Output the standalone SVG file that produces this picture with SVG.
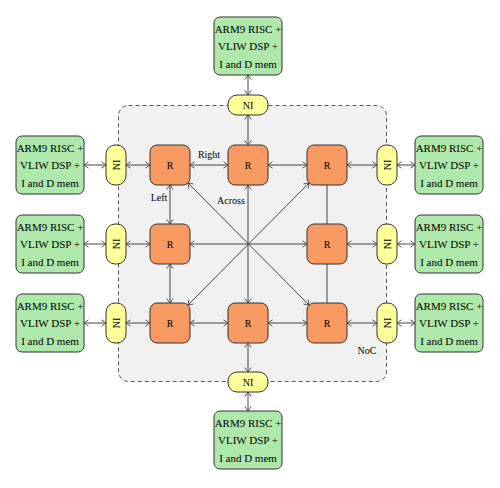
<svg xmlns="http://www.w3.org/2000/svg" width="500" height="488" viewBox="0 0 500 488">
<defs>
<style>
.pe{fill:#aee9ab;stroke:#333;stroke-width:1}
.r{fill:#f99a62;stroke:#333;stroke-width:1}
.ni{fill:#ffff99;stroke:#333;stroke-width:1}
.t{font-family:"Liberation Serif",serif;font-size:11px;fill:#000;text-anchor:middle;dominant-baseline:central}
.s{font-family:"Liberation Serif",serif;font-size:10px;fill:#000;text-anchor:middle;dominant-baseline:central}
.c line{stroke:#444;stroke-width:1;fill:none}
.a{marker-start:url(#ah);marker-end:url(#ah)}
</style>
<marker id="ah" viewBox="-6 -4 7 8" markerWidth="7" markerHeight="8" refX="0" refY="0" orient="auto-start-reverse" markerUnits="userSpaceOnUse">
<path d="M-4.5,-3.2 Q-1.2,-0.9 0,0 Q-1.2,0.9 -4.5,3.2" fill="none" stroke="#444" stroke-width="0.9"/>
</marker>
</defs>
<rect id="noc" x="118.5" y="105.5" width="268" height="276" rx="10" fill="#f1f1f1" stroke="#555" stroke-width="1" stroke-dasharray="4,3"/>
<text class="s" x="367" y="350">NoC</text>
<g class="c" id="connectors">
<line class="a" x1="248" y1="75" x2="248" y2="95"/>
<line class="a" x1="248" y1="115" x2="248" y2="145"/>
<line class="a" x1="248" y1="343" x2="248" y2="372"/>
<line class="a" x1="248" y1="392" x2="248" y2="411"/>
<line class="a" x1="84" y1="165" x2="106" y2="165"/>
<line class="a" x1="84" y1="244" x2="106" y2="244"/>
<line class="a" x1="84" y1="323" x2="106" y2="323"/>
<line class="a" x1="126" y1="165" x2="150" y2="165"/>
<line class="a" x1="126" y1="244" x2="150" y2="244"/>
<line class="a" x1="126" y1="323" x2="150" y2="323"/>
<line class="a" x1="347" y1="165" x2="377" y2="165"/>
<line class="a" x1="347" y1="244" x2="377" y2="244"/>
<line class="a" x1="347" y1="323" x2="377" y2="323"/>
<line class="a" x1="397" y1="165" x2="415" y2="165"/>
<line class="a" x1="397" y1="244" x2="415" y2="244"/>
<line class="a" x1="397" y1="323" x2="415" y2="323"/>
<line class="a" x1="190" y1="165" x2="228" y2="165"/>
<line class="a" x1="268" y1="165" x2="307" y2="165"/>
<line class="a" x1="190" y1="323" x2="228" y2="323"/>
<line class="a" x1="268" y1="323" x2="307" y2="323"/>
<line class="a" x1="170" y1="185" x2="170" y2="224"/>
<line class="a" x1="170" y1="264" x2="170" y2="303"/>
<line x1="327" y1="185" x2="327" y2="224"/>
<line x1="327" y1="264" x2="327" y2="303"/>
<line class="a" x1="190" y1="244" x2="307" y2="244"/>
<line class="a" x1="248" y1="185" x2="248" y2="303"/>
<line class="a" x1="188" y1="183" x2="309" y2="305"/>
<line class="a" x1="309" y1="183" x2="188" y2="305"/>
</g>
<text class="s" x="209" y="154">Right</text>
<text class="s" x="159" y="197">Left</text>
<text class="s" x="231" y="200">Across</text>
<g id="pe-top"><rect class="pe" x="214" y="17" width="68" height="58" rx="6"/><text class="t" x="248" y="28.5">ARM9 RISC +</text><text class="t" x="248" y="46">VLIW DSP +</text><text class="t" x="248" y="63.5">I and D mem</text></g>
<g id="pe-bottom"><rect class="pe" x="214" y="411" width="68" height="58" rx="6"/><text class="t" x="248" y="422.5">ARM9 RISC +</text><text class="t" x="248" y="440">VLIW DSP +</text><text class="t" x="248" y="457.5">I and D mem</text></g>
<g id="pe-l1"><rect class="pe" x="16" y="136" width="68" height="58" rx="6"/><text class="t" x="50" y="147.5">ARM9 RISC +</text><text class="t" x="50" y="165">VLIW DSP +</text><text class="t" x="50" y="182.5">I and D mem</text></g>
<g id="pe-l2"><rect class="pe" x="16" y="215" width="68" height="58" rx="6"/><text class="t" x="50" y="226.5">ARM9 RISC +</text><text class="t" x="50" y="244">VLIW DSP +</text><text class="t" x="50" y="261.5">I and D mem</text></g>
<g id="pe-l3"><rect class="pe" x="16" y="294" width="68" height="58" rx="6"/><text class="t" x="50" y="305.5">ARM9 RISC +</text><text class="t" x="50" y="323">VLIW DSP +</text><text class="t" x="50" y="340.5">I and D mem</text></g>
<g id="pe-r1"><rect class="pe" x="415" y="136" width="68" height="58" rx="6"/><text class="t" x="449" y="147.5">ARM9 RISC +</text><text class="t" x="449" y="165">VLIW DSP +</text><text class="t" x="449" y="182.5">I and D mem</text></g>
<g id="pe-r2"><rect class="pe" x="415" y="215" width="68" height="58" rx="6"/><text class="t" x="449" y="226.5">ARM9 RISC +</text><text class="t" x="449" y="244">VLIW DSP +</text><text class="t" x="449" y="261.5">I and D mem</text></g>
<g id="pe-r3"><rect class="pe" x="415" y="294" width="68" height="58" rx="6"/><text class="t" x="449" y="305.5">ARM9 RISC +</text><text class="t" x="449" y="323">VLIW DSP +</text><text class="t" x="449" y="340.5">I and D mem</text></g>
<g id="ni-top"><rect class="ni" x="228" y="95" width="40" height="20" rx="9"/><text class="s" x="248" y="105">NI</text></g>
<g id="ni-bottom"><rect class="ni" x="228" y="372" width="40" height="20" rx="9"/><text class="s" x="248" y="382">NI</text></g>
<g id="ni-l1"><rect class="ni" x="106" y="145" width="20" height="40" rx="9"/><text class="s" transform="translate(116 165) rotate(-90)">NI</text></g>
<g id="ni-l2"><rect class="ni" x="106" y="224" width="20" height="40" rx="9"/><text class="s" transform="translate(116 244) rotate(-90)">NI</text></g>
<g id="ni-l3"><rect class="ni" x="106" y="303" width="20" height="40" rx="9"/><text class="s" transform="translate(116 323) rotate(-90)">NI</text></g>
<g id="ni-r1"><rect class="ni" x="377" y="145" width="20" height="40" rx="9"/><text class="s" transform="translate(387 165) rotate(-90)">NI</text></g>
<g id="ni-r2"><rect class="ni" x="377" y="224" width="20" height="40" rx="9"/><text class="s" transform="translate(387 244) rotate(-90)">NI</text></g>
<g id="ni-r3"><rect class="ni" x="377" y="303" width="20" height="40" rx="9"/><text class="s" transform="translate(387 323) rotate(-90)">NI</text></g>
<g id="r11"><rect class="r" x="150" y="145" width="40" height="40" rx="7"/><text class="s" x="170" y="165">R</text></g>
<g id="r12"><rect class="r" x="228" y="145" width="40" height="40" rx="7"/><text class="s" x="248" y="165">R</text></g>
<g id="r13"><rect class="r" x="307" y="145" width="40" height="40" rx="7"/><text class="s" x="327" y="165">R</text></g>
<g id="r21"><rect class="r" x="150" y="224" width="40" height="40" rx="7"/><text class="s" x="170" y="244">R</text></g>
<g id="r23"><rect class="r" x="307" y="224" width="40" height="40" rx="7"/><text class="s" x="327" y="244">R</text></g>
<g id="r31"><rect class="r" x="150" y="303" width="40" height="40" rx="7"/><text class="s" x="170" y="323">R</text></g>
<g id="r32"><rect class="r" x="228" y="303" width="40" height="40" rx="7"/><text class="s" x="248" y="323">R</text></g>
<g id="r33"><rect class="r" x="307" y="303" width="40" height="40" rx="7"/><text class="s" x="327" y="323">R</text></g>
</svg>
